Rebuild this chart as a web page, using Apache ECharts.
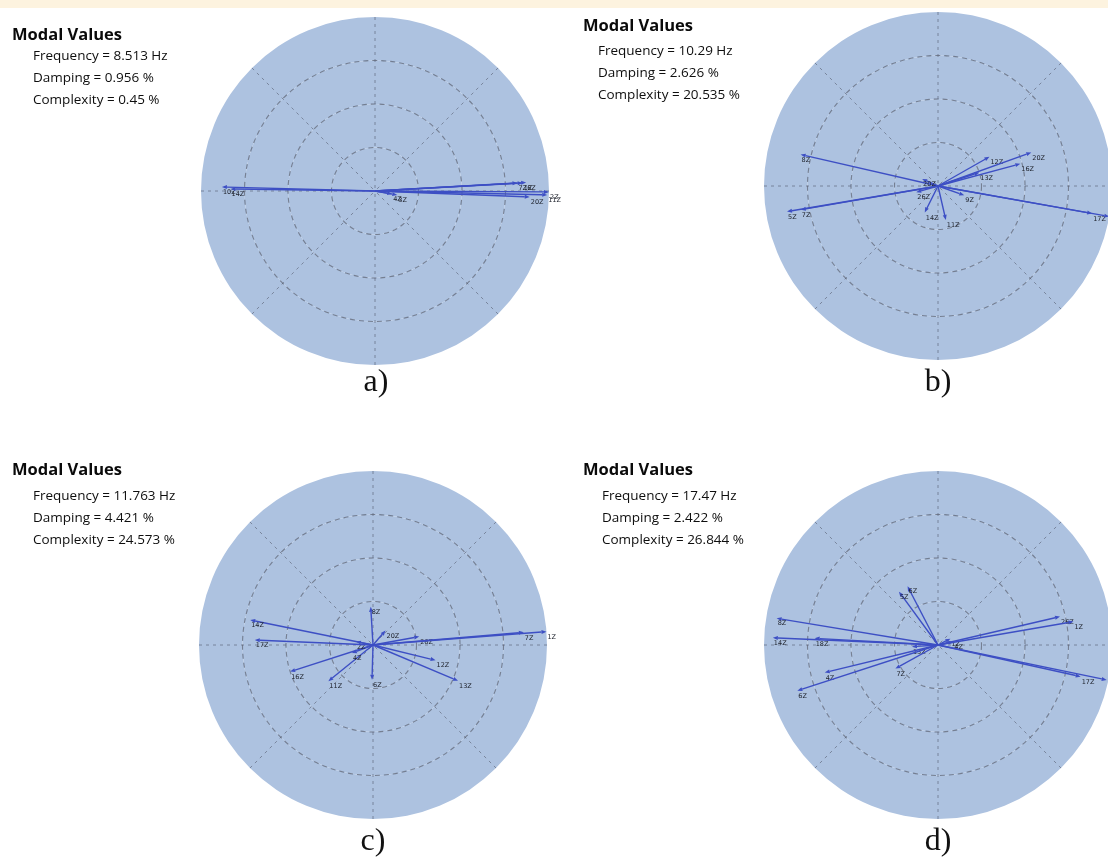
<!DOCTYPE html>
<html>
<head>
<meta charset="utf-8">
<script src="https://cdn.jsdelivr.net/npm/echarts@6/dist/echarts.min.js"></script>
<style>
  html, body { margin: 0; padding: 0; background: #ffffff; }
  #chart { width: 1108px; height: 863px; }
</style>
</head>
<body>
<div id="chart"></div>
<script>
// Panel captions and modal parameters of the four identified modes
const panelTags = ['a)', 'b)', 'c)', 'd)'];
const frequencies = ['8.513', '10.29', '11.763', '17.47'];
const dampings = ['0.956', '2.626', '4.421', '2.422'];
const complexities = ['0.45', '20.535', '24.573', '26.844'];

// Mode shape components: node name, normalized magnitude, phase in degrees
const nodesA = ['10Z', '14Z', '4Z', '3Z', '7Z', '1Z', '6Z', '20Z', '11Z', '2Z'];
const magA = [0.88, 0.83, 0.10, 0.13, 0.82, 0.85, 0.87, 0.89, 0.99, 1.00];
const phaseA = [178.5, 179.2, 350.0, 349.7, 3.2, 3.1, 3.2, 357.8, 358.7, 359.7];

const nodesB = ['8Z', '5Z', '7Z', '20Z', '26Z', '14Z', '11Z', '9Z', '17Z', '1Z', '12Z', '20Z', '16Z', '13Z'];
const magB = [0.81, 0.88, 0.80, 0.10, 0.13, 0.17, 0.20, 0.16, 0.90, 1.00, 0.34, 0.57, 0.49, 0.25];
const phaseB = [167.1, 189.6, 189.8, 156.0, 196.0, 243.4, 283.0, 340.6, 349.9, 349.9, 29.6, 19.8, 15.1, 18.2];

const nodesC = ['8Z', '20Z', '26Z', '7Z', '1Z', '12Z', '13Z', '6Z', '11Z', '16Z', '4Z', '2Z', '14Z', '17Z'];
const magC = [0.22, 0.11, 0.27, 0.87, 1.00, 0.37, 0.53, 0.20, 0.33, 0.50, 0.13, 0.10, 0.72, 0.68];
const phaseC = [93.4, 49.0, 10.3, 4.8, 4.4, 346.3, 337.2, 268.4, 219.0, 197.8, 201.0, 168.8, 168.5, 177.6];

const nodesD = ['6Z', '5Z', '8Z', '14Z', '18Z', '13Z', '4Z', '6Z', '7Z', '1Z', '4Z', '26Z', '1Z', '17Z', '2Z'];
const magD = [0.38, 0.38, 0.94, 0.95, 0.71, 0.15, 0.67, 0.85, 0.28, 0.08, 0.09, 0.72, 0.79, 0.84, 0.99];
const phaseD = [117.4, 126.2, 170.6, 177.5, 176.9, 183.7, 193.7, 198.0, 209.0, 27.0, 12.4, 13.1, 9.8, 347.5, 348.3];

const panels = [
  { names: nodesA, mag: magA, phase: phaseA },
  { names: nodesB, mag: magB, phase: phaseB },
  { names: nodesC, mag: magC, phase: phaseC },
  { names: nodesD, mag: magD, phase: phaseD }
];

// Layout of the 2x2 grid of polar plots
const centers = [[375, 191], [938, 186], [373, 645], [938, 645]];
const plotRadius = 174;
// [title x, title y, value lines x, gap from title to first value line]
const textBlocks = [[12, 35, 33, 21], [583, 26, 598, 25], [12, 470, 33, 26], [583, 470, 602, 26]];
const captionPos = [[376, 383], [938, 383], [373, 842], [938, 842]];

const DISC = '#adc2e0';
const VEC = '#3d4fc4';
const RING = 'rgba(85, 92, 110, 0.7)';
const SPOKE = 'rgba(85, 92, 110, 0.6)';
const SANS = '"Open Sans", "Noto Sans", sans-serif';

function vectorRenderer(names) {
  return function (params, api) {
    const o = api.coord([0, 0]);
    const p = api.coord([api.value(0), api.value(1)]);
    const dx = p[0] - o[0], dy = p[1] - o[1];
    const len = Math.hypot(dx, dy) || 1;
    const ux = dx / len, uy = dy / len;
    const head = 5, half = 2;
    const bx = p[0] - ux * head, by = p[1] - uy * head;
    return {
      type: 'group',
      children: [
        { type: 'line', shape: { x1: o[0], y1: o[1], x2: bx, y2: by },
          style: { stroke: VEC, lineWidth: 1.4 } },
        { type: 'polygon',
          shape: { points: [[p[0], p[1]], [bx - uy * half, by + ux * half], [bx + uy * half, by - ux * half]] },
          style: { fill: VEC } },
        { type: 'text', x: p[0] + 1, y: p[1] + 2,
          style: { text: names[params.dataIndex], fontSize: 6.5, fontFamily: 'DejaVu Sans', fill: '#20242e' } }
      ]
    };
  };
}

// Polar 0-3: filled discs underneath; polar 4-7: dashed grid and vectors on top
const polar = centers.concat(centers).map(c => ({ center: c, radius: plotRadius }));

const radiusAxis = [];
const angleAxis = [];
centers.forEach((c, i) => {
  radiusAxis.push({
    polarIndex: i, type: 'value', min: 0, max: 1, interval: 0.25, z: 0,
    axisLine: { show: false }, axisTick: { show: false }, axisLabel: { show: false },
    splitLine: { show: false },
    splitArea: { show: true, areaStyle: { color: [DISC, DISC] } }
  });
  angleAxis.push({
    polarIndex: i, type: 'value', min: 0, max: 360, interval: 90, z: 0,
    startAngle: 0, clockwise: false,
    axisLine: { show: false }, axisTick: { show: false }, axisLabel: { show: false },
    splitLine: { show: false }
  });
});
centers.forEach((c, i) => {
  radiusAxis.push({
    polarIndex: 4 + i, type: 'value', min: 0, max: 1, interval: 0.25, z: 3,
    axisLine: { show: false }, axisTick: { show: false }, axisLabel: { show: false },
    splitLine: { show: true, lineStyle: {
      color: ['rgba(0,0,0,0)', RING, RING, RING, 'rgba(0,0,0,0)'], type: [5, 4], width: 1.1 } }
  });
  angleAxis.push({
    polarIndex: 4 + i, type: 'value', min: 0, max: 360, interval: 45, z: 3,
    startAngle: 0, clockwise: false,
    axisLine: { show: false }, axisTick: { show: false }, axisLabel: { show: false },
    splitLine: { show: true, lineStyle: { color: SPOKE, type: [3, 4], width: 1 } }
  });
});

const series = panels.map((pn, i) => ({
  type: 'custom', coordinateSystem: 'polar', polarIndex: 4 + i, z: 5,
  encode: { radius: 0, angle: 1 },
  renderItem: vectorRenderer(pn.names),
  data: pn.mag.map((m, k) => [m, pn.phase[k]]),
  silent: true, animation: false
}));

const graphic = [
  { type: 'rect', shape: { x: 0, y: 0, width: 1108, height: 8 }, style: { fill: '#fdf3df' }, z: 100 }
];
textBlocks.forEach((b, i) => {
  graphic.push({ type: 'text', x: b[0], y: b[1], style: {
    text: 'Modal Values', font: 'bold 16.5px ' + SANS, fill: '#0a0a0a', textVerticalAlign: 'middle' } });
  const lines = [
    'Frequency = ' + frequencies[i] + ' Hz',
    'Damping = ' + dampings[i] + ' %',
    'Complexity = ' + complexities[i] + ' %'
  ];
  lines.forEach((t, k) => {
    graphic.push({ type: 'text', x: b[2], y: b[1] + b[3] + 22 * k, style: {
      text: t, font: '13.5px ' + SANS, fill: '#0e0e0e', textVerticalAlign: 'middle' } });
  });
});
captionPos.forEach((p, i) => {
  graphic.push({ type: 'text', x: p[0], y: p[1], style: {
    text: panelTags[i], font: '32px "Liberation Serif", serif', fill: '#111',
    textAlign: 'center', textVerticalAlign: 'middle' } });
});

const chart = echarts.init(document.getElementById('chart'), null, { renderer: 'canvas' });
chart.setOption({
  animation: false,
  backgroundColor: '#ffffff',
  polar, radiusAxis, angleAxis, series, graphic
});
</script>
</body>
</html>
